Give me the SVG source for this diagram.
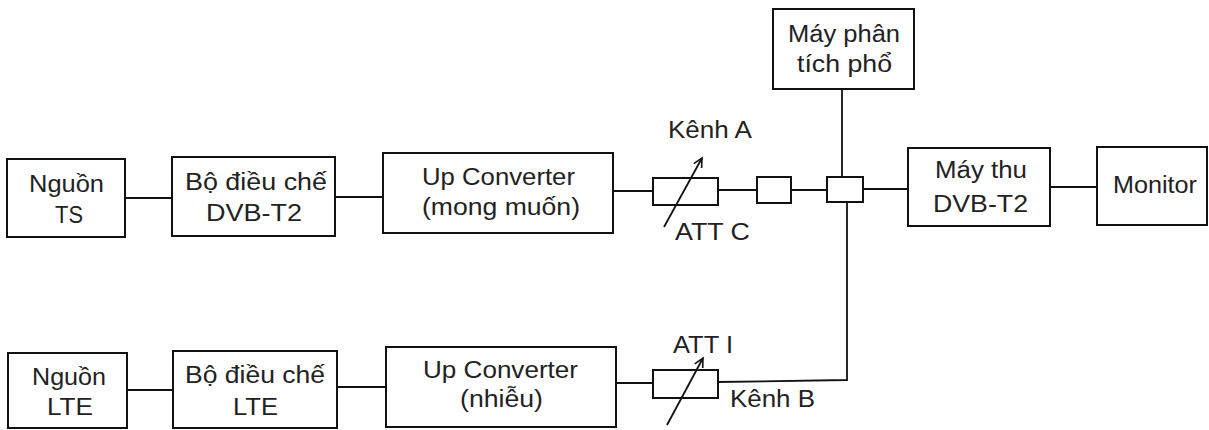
<svg xmlns="http://www.w3.org/2000/svg" width="1209" height="430" viewBox="0 0 1209 430">
<defs>
<style>
.box{fill:#fff;stroke:#111;stroke-width:2}
.ln{fill:none;stroke:#111;stroke-width:1.8}
.t{font-family:"Liberation Sans",Arial,sans-serif;font-size:23px;fill:#222}
</style>
<marker id="ah" markerWidth="12" markerHeight="12" refX="10" refY="5" orient="auto" markerUnits="userSpaceOnUse">
<path d="M1,0.5 L10,5 L1,9.5" fill="none" stroke="#111" stroke-width="1.6"/>
</marker>
</defs>
<rect width="1209" height="430" fill="#fff"/>
<g id="connectors">
<line class="ln" x1="125" y1="198" x2="172" y2="198"/>
<line class="ln" x1="335" y1="197" x2="383" y2="197"/>
<line class="ln" x1="613" y1="191" x2="653" y2="191"/>
<line class="ln" x1="718" y1="190" x2="757" y2="190"/>
<line class="ln" x1="791" y1="190" x2="827" y2="190"/>
<line class="ln" x1="863" y1="189" x2="908" y2="189"/>
<line class="ln" x1="1050" y1="187" x2="1097" y2="187"/>
<line class="ln" x1="842" y1="89" x2="842" y2="177"/>
<line class="ln" x1="127" y1="390" x2="173" y2="390"/>
<line class="ln" x1="337" y1="387" x2="386" y2="387"/>
<line class="ln" x1="616" y1="383" x2="653" y2="383"/>
<polyline class="ln" points="718,382 847,380 847,202"/>
</g>
<g id="nguon-ts">
<rect class="box" x="7" y="159" width="118" height="78"/>
<text class="t" x="29" y="192" textLength="75" lengthAdjust="spacingAndGlyphs">Nguồn</text>
<text class="t" x="55" y="223" textLength="28" lengthAdjust="spacingAndGlyphs">TS</text>
</g>
<g id="bo-dieu-che-dvbt2">
<rect class="box" x="172" y="157" width="163" height="79"/>
<text class="t" x="185" y="190" textLength="142" lengthAdjust="spacingAndGlyphs">Bộ điều chế</text>
<text class="t" x="206" y="221" textLength="96" lengthAdjust="spacingAndGlyphs">DVB-T2</text>
</g>
<g id="up-converter-a">
<rect class="box" x="383" y="153" width="230" height="80"/>
<text class="t" x="422" y="185" textLength="153" lengthAdjust="spacingAndGlyphs">Up Converter</text>
<text class="t" x="422" y="215" textLength="158" lengthAdjust="spacingAndGlyphs">(mong muốn)</text>
</g>
<g id="att-c">
<rect class="box" x="653" y="178" width="65" height="27"/>
<line class="ln" x1="664" y1="227" x2="702" y2="158" marker-end="url(#ah)"/>
<text class="t" x="668" y="138" textLength="84" lengthAdjust="spacingAndGlyphs">Kênh A</text>
<text class="t" x="675" y="240" textLength="75" lengthAdjust="spacingAndGlyphs">ATT C</text>
</g>
<g id="small-box">
<rect class="box" x="757" y="177" width="34" height="26"/>
</g>
<g id="coupler">
<rect class="box" x="827" y="177" width="36" height="25"/>
</g>
<g id="may-phan-tich-pho">
<rect class="box" x="773" y="9" width="141" height="80"/>
<text class="t" x="788" y="42" textLength="112" lengthAdjust="spacingAndGlyphs">Máy phân</text>
<text class="t" x="797" y="72" textLength="95" lengthAdjust="spacingAndGlyphs">tích phổ</text>
</g>
<g id="may-thu">
<rect class="box" x="908" y="148" width="142" height="78"/>
<text class="t" x="935" y="178" textLength="92" lengthAdjust="spacingAndGlyphs">Máy thu</text>
<text class="t" x="933" y="212" textLength="95" lengthAdjust="spacingAndGlyphs">DVB-T2</text>
</g>
<g id="monitor">
<rect class="box" x="1097" y="147" width="110" height="78"/>
<text class="t" x="1113" y="193" textLength="84" lengthAdjust="spacingAndGlyphs">Monitor</text>
</g>
<g id="nguon-lte">
<rect class="box" x="8" y="353" width="119" height="75"/>
<text class="t" x="32" y="385" textLength="74" lengthAdjust="spacingAndGlyphs">Nguồn</text>
<text class="t" x="47" y="415" textLength="46" lengthAdjust="spacingAndGlyphs">LTE</text>
</g>
<g id="bo-dieu-che-lte">
<rect class="box" x="173" y="351" width="164" height="77"/>
<text class="t" x="185" y="383" textLength="140" lengthAdjust="spacingAndGlyphs">Bộ điều chế</text>
<text class="t" x="233" y="415" textLength="45" lengthAdjust="spacingAndGlyphs">LTE</text>
</g>
<g id="up-converter-b">
<rect class="box" x="386" y="347" width="230" height="80"/>
<text class="t" x="423" y="378" textLength="155" lengthAdjust="spacingAndGlyphs">Up Converter</text>
<text class="t" x="460" y="407" textLength="83" lengthAdjust="spacingAndGlyphs">(nhiễu)</text>
</g>
<g id="att-i">
<rect class="box" x="653" y="370" width="65" height="28"/>
<line class="ln" x1="667" y1="425" x2="703" y2="358" marker-end="url(#ah)"/>
<text class="t" x="673" y="353" textLength="60" lengthAdjust="spacingAndGlyphs">ATT I</text>
<text class="t" x="730" y="407" textLength="85" lengthAdjust="spacingAndGlyphs">Kênh B</text>
</g>
</svg>
